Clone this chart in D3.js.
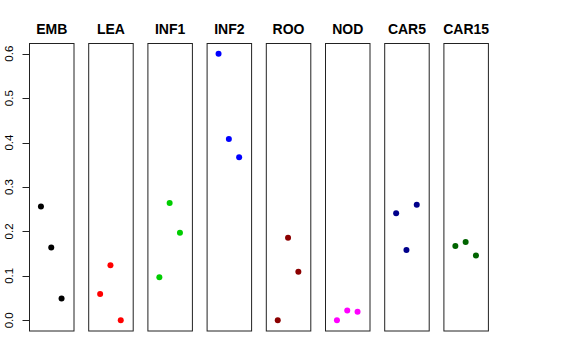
<!DOCTYPE html>
<html><head><meta charset="utf-8">
<script src="https://cdn.jsdelivr.net/npm/d3@7"></script>
<style>body{margin:0;background:#fff}svg{display:block}</style>
</head><body><svg id="c" width="576" height="360"></svg>
<script>
const categories = ["EMB","LEA","INF1","INF2","ROO","NOD","CAR5","CAR15"];
const colors = ["#000000","#FF0000","#00CD00","#0000FF","#8B0000","#FF00FF","#00008B","#006400"];
const EMB = [0.256, 0.164, 0.049];
const LEA = [0.059, 0.124, 0.000];
const INF1 = [0.097, 0.264, 0.197];
const INF2 = [0.600, 0.408, 0.367];
const ROO = [0.000, 0.186, 0.109];
const NOD = [0.000, 0.022, 0.019];
const CAR5 = [0.241, 0.158, 0.260];
const CAR15 = [0.167, 0.176, 0.146];
const seriesValues = [EMB, LEA, INF1, INF2, ROO, NOD, CAR5, CAR15];
const yTicks = [0.0, 0.1, 0.2, 0.3, 0.4, 0.5, 0.6];

const svg = d3.select("#c");
const panelTop = 43.5, panelBottom = 331, panelW = 44.5, step = 59.2, left0 = 29;
const y = d3.scaleLinear().domain([0, 0.6]).range([320.3, 53.7]);
const x = d3.scaleLinear().domain([-0.16, 4.16]).range([0, panelW]);

categories.forEach((cat, i) => {
  const gx = left0 + i * step;
  const g = svg.append("g").attr("transform", `translate(${gx},0)`);
  g.selectAll("circle").data(seriesValues[i]).join("circle")
    .attr("cx", (d, j) => x(j + 1)).attr("cy", d => y(d)).attr("r", 3)
    .attr("fill", colors[i]);
  g.append("rect").attr("x", 0.5).attr("y", panelTop).attr("width", panelW).attr("height", panelBottom - panelTop)
    .attr("fill", "none").attr("stroke", "#222").attr("stroke-width", 1);
  g.append("text").attr("x", panelW / 2 + 0.5).attr("y", 34).attr("text-anchor", "middle")
    .attr("font-family", "Liberation Sans, Arial, sans-serif").attr("font-weight", "bold")
    .attr("font-size", 14).text(cat);
});

// y axis
const ax = svg.append("g").attr("transform", `translate(${left0 + 0.5},0)`);
ax.selectAll("line.t").data(yTicks).join("line").attr("class", "t")
  .attr("x1", -7).attr("x2", 0).attr("y1", d => Math.round(y(d)) + 0.5).attr("y2", d => Math.round(y(d)) + 0.5)
  .attr("stroke", "#222");
ax.selectAll("text").data(yTicks).join("text")
  .attr("transform", d => `translate(-16.5,${y(d)}) rotate(-90)`)
  .attr("text-anchor", "middle")
  .attr("font-family", "Liberation Sans, Arial, sans-serif").attr("font-size", 11.5)
  .text(d => d3.format(".1f")(d));
</script></body></html>
